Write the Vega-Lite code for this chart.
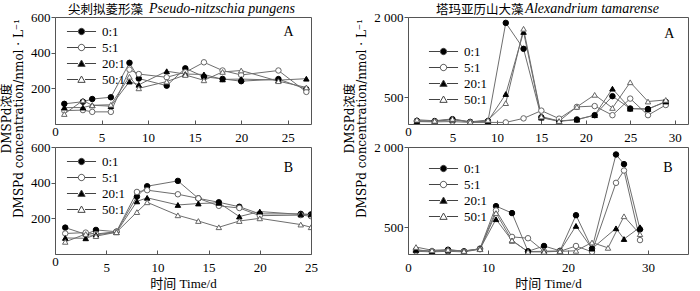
{
  "$schema": "https://vega.github.io/schema/vega-lite/v6.json",
  "padding": {"left": 0, "top": 1, "right": 0, "bottom": 0},
  "bounds": "flush",
  "columns": 2,
  "spacing": {"row": 23, "column": 97},
  "datasets": {
    "keys": [{"ratio": "0:1"}, {"ratio": "5:1"}, {"ratio": "20:1"}, {"ratio": "50:1"}]
  },
  "data": {"values": [
    {"panel":"TL","ratio":"0:1","day":1,"value":113},{"panel":"TL","ratio":"0:1","day":3,"value":125},{"panel":"TL","ratio":"0:1","day":4,"value":140},{"panel":"TL","ratio":"0:1","day":6,"value":150},{"panel":"TL","ratio":"0:1","day":8,"value":343},{"panel":"TL","ratio":"0:1","day":9,"value":255},{"panel":"TL","ratio":"0:1","day":12,"value":215},{"panel":"TL","ratio":"0:1","day":14,"value":312},{"panel":"TL","ratio":"0:1","day":16,"value":265},{"panel":"TL","ratio":"0:1","day":18,"value":253},{"panel":"TL","ratio":"0:1","day":20,"value":240},{"panel":"TL","ratio":"0:1","day":24,"value":252},{"panel":"TL","ratio":"0:1","day":27,"value":195},
    {"panel":"TL","ratio":"5:1","day":1,"value":75},{"panel":"TL","ratio":"5:1","day":3,"value":78},{"panel":"TL","ratio":"5:1","day":4,"value":68},{"panel":"TL","ratio":"5:1","day":6,"value":68},{"panel":"TL","ratio":"5:1","day":8,"value":305},{"panel":"TL","ratio":"5:1","day":9,"value":280},{"panel":"TL","ratio":"5:1","day":12,"value":262},{"panel":"TL","ratio":"5:1","day":14,"value":290},{"panel":"TL","ratio":"5:1","day":16,"value":346},{"panel":"TL","ratio":"5:1","day":18,"value":300},{"panel":"TL","ratio":"5:1","day":20,"value":275},{"panel":"TL","ratio":"5:1","day":24,"value":300},{"panel":"TL","ratio":"5:1","day":27,"value":180},
    {"panel":"TL","ratio":"20:1","day":1,"value":92},{"panel":"TL","ratio":"20:1","day":3,"value":92},{"panel":"TL","ratio":"20:1","day":4,"value":105},{"panel":"TL","ratio":"20:1","day":6,"value":100},{"panel":"TL","ratio":"20:1","day":8,"value":238},{"panel":"TL","ratio":"20:1","day":9,"value":220},{"panel":"TL","ratio":"20:1","day":12,"value":296},{"panel":"TL","ratio":"20:1","day":14,"value":280},{"panel":"TL","ratio":"20:1","day":16,"value":278},{"panel":"TL","ratio":"20:1","day":18,"value":250},{"panel":"TL","ratio":"20:1","day":20,"value":252},{"panel":"TL","ratio":"20:1","day":24,"value":246},{"panel":"TL","ratio":"20:1","day":27,"value":254},
    {"panel":"TL","ratio":"50:1","day":1,"value":56},{"panel":"TL","ratio":"50:1","day":3,"value":132},{"panel":"TL","ratio":"50:1","day":4,"value":105},{"panel":"TL","ratio":"50:1","day":6,"value":108},{"panel":"TL","ratio":"50:1","day":8,"value":265},{"panel":"TL","ratio":"50:1","day":9,"value":200},{"panel":"TL","ratio":"50:1","day":12,"value":238},{"panel":"TL","ratio":"50:1","day":14,"value":275},{"panel":"TL","ratio":"50:1","day":16,"value":245},{"panel":"TL","ratio":"50:1","day":18,"value":292},{"panel":"TL","ratio":"50:1","day":20,"value":300},{"panel":"TL","ratio":"50:1","day":24,"value":240},{"panel":"TL","ratio":"50:1","day":27,"value":205},

    {"panel":"BL","ratio":"0:1","day":1,"value":148},{"panel":"BL","ratio":"0:1","day":3,"value":110},{"panel":"BL","ratio":"0:1","day":4,"value":135},{"panel":"BL","ratio":"0:1","day":6,"value":125},{"panel":"BL","ratio":"0:1","day":8,"value":322},{"panel":"BL","ratio":"0:1","day":9,"value":380},{"panel":"BL","ratio":"0:1","day":12,"value":410},{"panel":"BL","ratio":"0:1","day":14,"value":312},{"panel":"BL","ratio":"0:1","day":16,"value":290},{"panel":"BL","ratio":"0:1","day":18,"value":265},{"panel":"BL","ratio":"0:1","day":20,"value":225},{"panel":"BL","ratio":"0:1","day":24,"value":225},{"panel":"BL","ratio":"0:1","day":25,"value":222},
    {"panel":"BL","ratio":"5:1","day":1,"value":115},{"panel":"BL","ratio":"5:1","day":3,"value":120},{"panel":"BL","ratio":"5:1","day":4,"value":112},{"panel":"BL","ratio":"5:1","day":6,"value":125},{"panel":"BL","ratio":"5:1","day":8,"value":348},{"panel":"BL","ratio":"5:1","day":9,"value":358},{"panel":"BL","ratio":"5:1","day":12,"value":335},{"panel":"BL","ratio":"5:1","day":14,"value":312},{"panel":"BL","ratio":"5:1","day":16,"value":270},{"panel":"BL","ratio":"5:1","day":18,"value":258},{"panel":"BL","ratio":"5:1","day":20,"value":215},{"panel":"BL","ratio":"5:1","day":24,"value":218},{"panel":"BL","ratio":"5:1","day":25,"value":212},
    {"panel":"BL","ratio":"20:1","day":1,"value":90},{"panel":"BL","ratio":"20:1","day":3,"value":88},{"panel":"BL","ratio":"20:1","day":4,"value":108},{"panel":"BL","ratio":"20:1","day":6,"value":122},{"panel":"BL","ratio":"20:1","day":8,"value":295},{"panel":"BL","ratio":"20:1","day":9,"value":315},{"panel":"BL","ratio":"20:1","day":12,"value":275},{"panel":"BL","ratio":"20:1","day":14,"value":283},{"panel":"BL","ratio":"20:1","day":16,"value":287},{"panel":"BL","ratio":"20:1","day":18,"value":210},{"panel":"BL","ratio":"20:1","day":20,"value":238},{"panel":"BL","ratio":"20:1","day":24,"value":222},{"panel":"BL","ratio":"20:1","day":25,"value":222},
    {"panel":"BL","ratio":"50:1","day":1,"value":68},{"panel":"BL","ratio":"50:1","day":3,"value":112},{"panel":"BL","ratio":"50:1","day":4,"value":100},{"panel":"BL","ratio":"50:1","day":6,"value":122},{"panel":"BL","ratio":"50:1","day":8,"value":235},{"panel":"BL","ratio":"50:1","day":9,"value":290},{"panel":"BL","ratio":"50:1","day":12,"value":217},{"panel":"BL","ratio":"50:1","day":14,"value":185},{"panel":"BL","ratio":"50:1","day":16,"value":150},{"panel":"BL","ratio":"50:1","day":18,"value":185},{"panel":"BL","ratio":"50:1","day":20,"value":200},{"panel":"BL","ratio":"50:1","day":24,"value":165},{"panel":"BL","ratio":"50:1","day":25,"value":150},

    {"panel":"TR","ratio":"0:1","day":1,"value":60},{"panel":"TR","ratio":"0:1","day":3,"value":55},{"panel":"TR","ratio":"0:1","day":5,"value":90},{"panel":"TR","ratio":"0:1","day":7,"value":40},{"panel":"TR","ratio":"0:1","day":9,"value":55},{"panel":"TR","ratio":"0:1","day":11,"value":1890},{"panel":"TR","ratio":"0:1","day":13,"value":1405},{"panel":"TR","ratio":"0:1","day":15,"value":125},{"panel":"TR","ratio":"0:1","day":17,"value":55},{"panel":"TR","ratio":"0:1","day":19,"value":85},{"panel":"TR","ratio":"0:1","day":21,"value":165},{"panel":"TR","ratio":"0:1","day":23,"value":520},{"panel":"TR","ratio":"0:1","day":25,"value":290},{"panel":"TR","ratio":"0:1","day":27,"value":280},{"panel":"TR","ratio":"0:1","day":29,"value":415},
    {"panel":"TR","ratio":"5:1","day":1,"value":45},{"panel":"TR","ratio":"5:1","day":3,"value":40},{"panel":"TR","ratio":"5:1","day":5,"value":45},{"panel":"TR","ratio":"5:1","day":7,"value":30},{"panel":"TR","ratio":"5:1","day":9,"value":30},{"panel":"TR","ratio":"5:1","day":11,"value":30},{"panel":"TR","ratio":"5:1","day":13,"value":105},{"panel":"TR","ratio":"5:1","day":15,"value":250},{"panel":"TR","ratio":"5:1","day":17,"value":100},{"panel":"TR","ratio":"5:1","day":19,"value":320},{"panel":"TR","ratio":"5:1","day":21,"value":335},{"panel":"TR","ratio":"5:1","day":23,"value":165},{"panel":"TR","ratio":"5:1","day":25,"value":475},{"panel":"TR","ratio":"5:1","day":27,"value":165},{"panel":"TR","ratio":"5:1","day":29,"value":355},
    {"panel":"TR","ratio":"20:1","day":1,"value":55},{"panel":"TR","ratio":"20:1","day":3,"value":50},{"panel":"TR","ratio":"20:1","day":5,"value":80},{"panel":"TR","ratio":"20:1","day":7,"value":35},{"panel":"TR","ratio":"20:1","day":9,"value":55},{"panel":"TR","ratio":"20:1","day":11,"value":560},{"panel":"TR","ratio":"20:1","day":13,"value":1720},{"panel":"TR","ratio":"20:1","day":15,"value":118},{"panel":"TR","ratio":"20:1","day":17,"value":50},{"panel":"TR","ratio":"20:1","day":19,"value":80},{"panel":"TR","ratio":"20:1","day":21,"value":165},{"panel":"TR","ratio":"20:1","day":23,"value":660},{"panel":"TR","ratio":"20:1","day":25,"value":285},{"panel":"TR","ratio":"20:1","day":27,"value":280},{"panel":"TR","ratio":"20:1","day":29,"value":420},
    {"panel":"TR","ratio":"50:1","day":1,"value":80},{"panel":"TR","ratio":"50:1","day":3,"value":60},{"panel":"TR","ratio":"50:1","day":5,"value":95},{"panel":"TR","ratio":"50:1","day":7,"value":40},{"panel":"TR","ratio":"50:1","day":9,"value":75},{"panel":"TR","ratio":"50:1","day":11,"value":390},{"panel":"TR","ratio":"50:1","day":13,"value":1780},{"panel":"TR","ratio":"50:1","day":15,"value":140},{"panel":"TR","ratio":"50:1","day":17,"value":55},{"panel":"TR","ratio":"50:1","day":19,"value":320},{"panel":"TR","ratio":"50:1","day":21,"value":545},{"panel":"TR","ratio":"50:1","day":23,"value":300},{"panel":"TR","ratio":"50:1","day":25,"value":780},{"panel":"TR","ratio":"50:1","day":27,"value":420},{"panel":"TR","ratio":"50:1","day":29,"value":450},

    {"panel":"BR","ratio":"0:1","day":1,"value":75},{"panel":"BR","ratio":"0:1","day":3,"value":50},{"panel":"BR","ratio":"0:1","day":5,"value":80},{"panel":"BR","ratio":"0:1","day":7,"value":50},{"panel":"BR","ratio":"0:1","day":9,"value":100},{"panel":"BR","ratio":"0:1","day":11,"value":895},{"panel":"BR","ratio":"0:1","day":13,"value":765},{"panel":"BR","ratio":"0:1","day":15,"value":50},{"panel":"BR","ratio":"0:1","day":17,"value":150},{"panel":"BR","ratio":"0:1","day":19,"value":60},{"panel":"BR","ratio":"0:1","day":21,"value":725},{"panel":"BR","ratio":"0:1","day":23,"value":100},{"panel":"BR","ratio":"0:1","day":26,"value":1860},{"panel":"BR","ratio":"0:1","day":27,"value":1680},{"panel":"BR","ratio":"0:1","day":29,"value":460},
    {"panel":"BR","ratio":"5:1","day":1,"value":50},{"panel":"BR","ratio":"5:1","day":3,"value":40},{"panel":"BR","ratio":"5:1","day":5,"value":50},{"panel":"BR","ratio":"5:1","day":7,"value":40},{"panel":"BR","ratio":"5:1","day":9,"value":90},{"panel":"BR","ratio":"5:1","day":11,"value":815},{"panel":"BR","ratio":"5:1","day":13,"value":320},{"panel":"BR","ratio":"5:1","day":15,"value":295},{"panel":"BR","ratio":"5:1","day":17,"value":50},{"panel":"BR","ratio":"5:1","day":19,"value":50},{"panel":"BR","ratio":"5:1","day":21,"value":150},{"panel":"BR","ratio":"5:1","day":23,"value":40},{"panel":"BR","ratio":"5:1","day":26,"value":1330},{"panel":"BR","ratio":"5:1","day":27,"value":1560},{"panel":"BR","ratio":"5:1","day":29,"value":260},
    {"panel":"BR","ratio":"20:1","day":1,"value":75},{"panel":"BR","ratio":"20:1","day":3,"value":55},{"panel":"BR","ratio":"20:1","day":5,"value":65},{"panel":"BR","ratio":"20:1","day":7,"value":60},{"panel":"BR","ratio":"20:1","day":9,"value":95},{"panel":"BR","ratio":"20:1","day":11,"value":650},{"panel":"BR","ratio":"20:1","day":13,"value":250},{"panel":"BR","ratio":"20:1","day":15,"value":45},{"panel":"BR","ratio":"20:1","day":17,"value":50},{"panel":"BR","ratio":"20:1","day":19,"value":55},{"panel":"BR","ratio":"20:1","day":21,"value":525},{"panel":"BR","ratio":"20:1","day":23,"value":100},{"panel":"BR","ratio":"20:1","day":26,"value":480},{"panel":"BR","ratio":"20:1","day":27,"value":280},{"panel":"BR","ratio":"20:1","day":29,"value":500},
    {"panel":"BR","ratio":"50:1","day":1,"value":130},{"panel":"BR","ratio":"50:1","day":3,"value":70},{"panel":"BR","ratio":"50:1","day":5,"value":80},{"panel":"BR","ratio":"50:1","day":7,"value":55},{"panel":"BR","ratio":"50:1","day":9,"value":90},{"panel":"BR","ratio":"50:1","day":11,"value":765},{"panel":"BR","ratio":"50:1","day":13,"value":255},{"panel":"BR","ratio":"50:1","day":15,"value":40},{"panel":"BR","ratio":"50:1","day":17,"value":40},{"panel":"BR","ratio":"50:1","day":19,"value":50},{"panel":"BR","ratio":"50:1","day":21,"value":60},{"panel":"BR","ratio":"50:1","day":23,"value":215},{"panel":"BR","ratio":"50:1","day":25,"value":115},{"panel":"BR","ratio":"50:1","day":27,"value":705},{"panel":"BR","ratio":"50:1","day":29,"value":370}
  ]},
  "concat": [
    {
      "width": 256, "height": 107,
      "resolve": {"scale": {"shape": "independent", "fill": "independent", "stroke": "independent"}},
      "layer": [
        {"transform": [{"filter": "datum.panel === 'TL'"}],
         "mark": {"type": "line", "color": "#6e6e6e", "strokeWidth": 1, "clip": true},
         "encoding": {
           "x": {"field": "day", "type": "quantitative", "scale": {"domain": [0, 27.5], "nice": false}, "axis": {"values": [0, 5, 10, 15, 20, 25], "title": null, "labelOverlap": false, "labelBaseline": {"condition": {"test": "datum.value === 0", "value": "middle"}, "value": "top"}}},
           "y": {"field": "value", "type": "quantitative", "scale": {"domain": [0, 600], "nice": false}, "axis": {"values": [200, 400, 600], "title": ["DMSPd浓度", "DMSPd concentration/nmol · L⁻¹"], "titleY": 101}},
           "detail": {"field": "ratio"}}},
        {"transform": [{"filter": "datum.panel === 'TL'"}],
         "mark": {"type": "point", "filled": true, "clip": true, "strokeWidth": 1, "size": 30, "opacity": 1},
         "encoding": {
           "x": {"field": "day", "type": "quantitative"},
           "y": {"field": "value", "type": "quantitative"},
           "shape": {"field": "ratio", "scale": {"domain": ["0:1", "5:1", "20:1", "50:1"], "range": ["circle", "circle", "triangle-up", "triangle-up"]}, "legend": null},
           "fill": {"field": "ratio", "scale": {"domain": ["0:1", "5:1", "20:1", "50:1"], "range": ["#000000", "#ffffff", "#000000", "#ffffff"]}, "legend": null},
           "stroke": {"field": "ratio", "scale": {"domain": ["0:1", "5:1", "20:1", "50:1"], "range": ["#000000", "#666666", "#000000", "#666666"]}, "legend": null}}},
        {"data": {"name": "keys"},
         "mark": {"type": "point", "filled": false, "opacity": 0, "strokeWidth": 1},
         "encoding": {
           "shape": {"field": "ratio", "scale": {"domain": ["0:1", "5:1", "20:1", "50:1"], "range": ["M-4.6,0H-1.1M1.1,0H4.6M1,0A1,1,0,1,1,-1,0A1,1,0,1,1,1,0Z", "M-4.6,0H-1.1M1.1,0H4.6M1,0A1,1,0,1,1,-1,0A1,1,0,1,1,1,0Z", "M-4.6,0H-1.1M1.1,0H4.6M0,-1.1L1.15,0.9L-1.15,0.9Z", "M-4.6,0H-1.1M1.1,0H4.6M0,-1.1L1.15,0.9L-1.15,0.9Z"]}, "legend": {"orient": "none", "legendX": 20, "legendY": 8}},
           "fill": {"field": "ratio", "scale": {"domain": ["0:1", "5:1", "20:1", "50:1"], "range": ["#000000", "#ffffff", "#000000", "#ffffff"]}, "legend": {"orient": "none", "legendX": 20, "legendY": 8}},
           "stroke": {"field": "ratio", "scale": {"domain": ["0:1", "5:1", "20:1", "50:1"], "range": ["#444444", "#444444", "#444444", "#444444"]}, "legend": {"orient": "none", "legendX": 20, "legendY": 8}}}},
        {"data": {"values": [{"tag": "A"}]},
         "mark": {"type": "text", "fontSize": 14},
         "encoding": {
           "x": {"datum": 25.1, "type": "quantitative"},
           "y": {"datum": 515, "type": "quantitative"},
           "text": {"field": "tag"}}},
        {"data": {"values": [{"species": "尖刺拟菱形藻"}]},
         "mark": {"type": "text", "fontSize": 12.5, "font": "Noto Sans CJK SC", "align": "left", "baseline": "alphabetic", "clip": false},
         "encoding": {
           "x": {"datum": 1.4, "type": "quantitative"},
           "y": {"datum": 616, "type": "quantitative"},
           "text": {"field": "species"}}},
        {"data": {"values": [{"species": "Pseudo-nitzschia pungens"}]},
         "mark": {"type": "text", "fontSize": 14, "fontStyle": "italic", "align": "left", "baseline": "alphabetic", "clip": false},
         "encoding": {
           "x": {"datum": 10.1, "type": "quantitative"},
           "y": {"datum": 620, "type": "quantitative"},
           "text": {"field": "species"}}}
      ]
    },
    {
      "width": 280, "height": 107,
      "resolve": {"scale": {"shape": "independent", "fill": "independent", "stroke": "independent"}},
      "layer": [
        {"transform": [{"filter": "datum.panel === 'TR'"}],
         "mark": {"type": "line", "color": "#6e6e6e", "strokeWidth": 1, "clip": true},
         "encoding": {
           "x": {"field": "day", "type": "quantitative", "scale": {"domain": [0, 31.5], "nice": false}, "axis": {"values": [0, 5, 10, 15, 20, 25, 30], "title": null, "labelOverlap": false, "labelBaseline": {"condition": {"test": "datum.value === 0", "value": "middle"}, "value": "top"}}},
           "y": {"field": "value", "type": "quantitative", "scale": {"domain": [0, 2000], "nice": false}, "axis": {"values": [500, 1000, 1500, 2000], "labelExpr": "replace(format(datum.value, ','), ',', ' ')", "title": ["DMSPd浓度", "DMSPd concentration/nmol · L⁻¹"], "titleY": 101}},
           "detail": {"field": "ratio"}}},
        {"transform": [{"filter": "datum.panel === 'TR'"}],
         "mark": {"type": "point", "filled": true, "clip": true, "strokeWidth": 1, "size": 30, "opacity": 1},
         "encoding": {
           "x": {"field": "day", "type": "quantitative"},
           "y": {"field": "value", "type": "quantitative"},
           "shape": {"field": "ratio", "scale": {"domain": ["0:1", "5:1", "20:1", "50:1"], "range": ["circle", "circle", "triangle-up", "triangle-up"]}, "legend": null},
           "fill": {"field": "ratio", "scale": {"domain": ["0:1", "5:1", "20:1", "50:1"], "range": ["#000000", "#ffffff", "#000000", "#ffffff"]}, "legend": null},
           "stroke": {"field": "ratio", "scale": {"domain": ["0:1", "5:1", "20:1", "50:1"], "range": ["#000000", "#666666", "#000000", "#666666"]}, "legend": null}}},
        {"data": {"name": "keys"},
         "mark": {"type": "point", "filled": false, "opacity": 0, "strokeWidth": 1},
         "encoding": {
           "shape": {"field": "ratio", "scale": {"domain": ["0:1", "5:1", "20:1", "50:1"], "range": ["M-4.6,0H-1.1M1.1,0H4.6M1,0A1,1,0,1,1,-1,0A1,1,0,1,1,1,0Z", "M-4.6,0H-1.1M1.1,0H4.6M1,0A1,1,0,1,1,-1,0A1,1,0,1,1,1,0Z", "M-4.6,0H-1.1M1.1,0H4.6M0,-1.1L1.15,0.9L-1.15,0.9Z", "M-4.6,0H-1.1M1.1,0H4.6M0,-1.1L1.15,0.9L-1.15,0.9Z"]}, "legend": {"orient": "none", "legendX": 29, "legendY": 28}},
           "fill": {"field": "ratio", "scale": {"domain": ["0:1", "5:1", "20:1", "50:1"], "range": ["#000000", "#ffffff", "#000000", "#ffffff"]}, "legend": {"orient": "none", "legendX": 29, "legendY": 28}},
           "stroke": {"field": "ratio", "scale": {"domain": ["0:1", "5:1", "20:1", "50:1"], "range": ["#444444", "#444444", "#444444", "#444444"]}, "legend": {"orient": "none", "legendX": 29, "legendY": 28}}}},
        {"data": {"values": [{"tag": "A"}]},
         "mark": {"type": "text", "fontSize": 14},
         "encoding": {
           "x": {"datum": 29.4, "type": "quantitative"},
           "y": {"datum": 1690, "type": "quantitative"},
           "text": {"field": "tag"}}},
        {"data": {"values": [{"species": "塔玛亚历山大藻"}]},
         "mark": {"type": "text", "fontSize": 12.5, "font": "Noto Sans CJK SC", "align": "left", "baseline": "alphabetic", "clip": false},
         "encoding": {
           "x": {"datum": 3.15, "type": "quantitative"},
           "y": {"datum": 2055, "type": "quantitative"},
           "text": {"field": "species"}}},
        {"data": {"values": [{"species": "Alexandrium tamarense"}]},
         "mark": {"type": "text", "fontSize": 14, "fontStyle": "italic", "align": "left", "baseline": "alphabetic", "clip": false},
         "encoding": {
           "x": {"datum": 13.2, "type": "quantitative"},
           "y": {"datum": 2068, "type": "quantitative"},
           "text": {"field": "species"}}}
      ]
    },
    {
      "width": 256, "height": 107,
      "resolve": {"scale": {"shape": "independent", "fill": "independent", "stroke": "independent"}},
      "layer": [
        {"transform": [{"filter": "datum.panel === 'BL'"}],
         "mark": {"type": "line", "color": "#6e6e6e", "strokeWidth": 1, "clip": true},
         "encoding": {
           "x": {"field": "day", "type": "quantitative", "scale": {"domain": [0, 25], "nice": false}, "axis": {"values": [0, 5, 10, 15, 20, 25], "title": "时间 Time/d", "titlePadding": 3, "labelOverlap": false, "labelBaseline": {"condition": {"test": "datum.value === 0", "value": "middle"}, "value": "top"}}},
           "y": {"field": "value", "type": "quantitative", "scale": {"domain": [0, 600], "nice": false}, "axis": {"values": [200, 400, 600], "title": null}},
           "detail": {"field": "ratio"}}},
        {"transform": [{"filter": "datum.panel === 'BL'"}],
         "mark": {"type": "point", "filled": true, "clip": true, "strokeWidth": 1, "size": 30, "opacity": 1},
         "encoding": {
           "x": {"field": "day", "type": "quantitative"},
           "y": {"field": "value", "type": "quantitative"},
           "shape": {"field": "ratio", "scale": {"domain": ["0:1", "5:1", "20:1", "50:1"], "range": ["circle", "circle", "triangle-up", "triangle-up"]}, "legend": null},
           "fill": {"field": "ratio", "scale": {"domain": ["0:1", "5:1", "20:1", "50:1"], "range": ["#000000", "#ffffff", "#000000", "#ffffff"]}, "legend": null},
           "stroke": {"field": "ratio", "scale": {"domain": ["0:1", "5:1", "20:1", "50:1"], "range": ["#000000", "#666666", "#000000", "#666666"]}, "legend": null}}},
        {"data": {"name": "keys"},
         "mark": {"type": "point", "filled": false, "opacity": 0, "strokeWidth": 1},
         "encoding": {
           "shape": {"field": "ratio", "scale": {"domain": ["0:1", "5:1", "20:1", "50:1"], "range": ["M-4.6,0H-1.1M1.1,0H4.6M1,0A1,1,0,1,1,-1,0A1,1,0,1,1,1,0Z", "M-4.6,0H-1.1M1.1,0H4.6M1,0A1,1,0,1,1,-1,0A1,1,0,1,1,1,0Z", "M-4.6,0H-1.1M1.1,0H4.6M0,-1.1L1.15,0.9L-1.15,0.9Z", "M-4.6,0H-1.1M1.1,0H4.6M0,-1.1L1.15,0.9L-1.15,0.9Z"]}, "legend": {"orient": "none", "legendX": 20, "legendY": 8}},
           "fill": {"field": "ratio", "scale": {"domain": ["0:1", "5:1", "20:1", "50:1"], "range": ["#000000", "#ffffff", "#000000", "#ffffff"]}, "legend": {"orient": "none", "legendX": 20, "legendY": 8}},
           "stroke": {"field": "ratio", "scale": {"domain": ["0:1", "5:1", "20:1", "50:1"], "range": ["#444444", "#444444", "#444444", "#444444"]}, "legend": {"orient": "none", "legendX": 20, "legendY": 8}}}},
        {"data": {"values": [{"tag": "B"}]},
         "mark": {"type": "text", "fontSize": 14},
         "encoding": {
           "x": {"datum": 22.8, "type": "quantitative"},
           "y": {"datum": 480, "type": "quantitative"},
           "text": {"field": "tag"}}}
      ]
    },
    {
      "width": 280, "height": 107,
      "resolve": {"scale": {"shape": "independent", "fill": "independent", "stroke": "independent"}},
      "layer": [
        {"transform": [{"filter": "datum.panel === 'BR'"}],
         "mark": {"type": "line", "color": "#6e6e6e", "strokeWidth": 1, "clip": true},
         "encoding": {
           "x": {"field": "day", "type": "quantitative", "scale": {"domain": [0, 35], "nice": false}, "axis": {"values": [0, 5, 10, 15, 20, 25, 30, 35], "title": "时间 Time/d", "titlePadding": 3, "labelOverlap": false, "labelBound": false, "labelSeparation": 0, "labelBaseline": "top"}},
           "y": {"field": "value", "type": "quantitative", "scale": {"domain": [0, 2000], "nice": false}, "axis": {"values": [500, 1000, 1500, 2000], "labelExpr": "replace(format(datum.value, ','), ',', ' ')", "title": null}},
           "detail": {"field": "ratio"}}},
        {"transform": [{"filter": "datum.panel === 'BR'"}],
         "mark": {"type": "point", "filled": true, "clip": true, "strokeWidth": 1, "size": 30, "opacity": 1},
         "encoding": {
           "x": {"field": "day", "type": "quantitative"},
           "y": {"field": "value", "type": "quantitative"},
           "shape": {"field": "ratio", "scale": {"domain": ["0:1", "5:1", "20:1", "50:1"], "range": ["circle", "circle", "triangle-up", "triangle-up"]}, "legend": null},
           "fill": {"field": "ratio", "scale": {"domain": ["0:1", "5:1", "20:1", "50:1"], "range": ["#000000", "#ffffff", "#000000", "#ffffff"]}, "legend": null},
           "stroke": {"field": "ratio", "scale": {"domain": ["0:1", "5:1", "20:1", "50:1"], "range": ["#000000", "#666666", "#000000", "#666666"]}, "legend": null}}},
        {"data": {"name": "keys"},
         "mark": {"type": "point", "filled": false, "opacity": 0, "strokeWidth": 1},
         "encoding": {
           "shape": {"field": "ratio", "scale": {"domain": ["0:1", "5:1", "20:1", "50:1"], "range": ["M-4.6,0H-1.1M1.1,0H4.6M1,0A1,1,0,1,1,-1,0A1,1,0,1,1,1,0Z", "M-4.6,0H-1.1M1.1,0H4.6M1,0A1,1,0,1,1,-1,0A1,1,0,1,1,1,0Z", "M-4.6,0H-1.1M1.1,0H4.6M0,-1.1L1.15,0.9L-1.15,0.9Z", "M-4.6,0H-1.1M1.1,0H4.6M0,-1.1L1.15,0.9L-1.15,0.9Z"]}, "legend": {"orient": "none", "legendX": 29, "legendY": 15}},
           "fill": {"field": "ratio", "scale": {"domain": ["0:1", "5:1", "20:1", "50:1"], "range": ["#000000", "#ffffff", "#000000", "#ffffff"]}, "legend": {"orient": "none", "legendX": 29, "legendY": 15}},
           "stroke": {"field": "ratio", "scale": {"domain": ["0:1", "5:1", "20:1", "50:1"], "range": ["#444444", "#444444", "#444444", "#444444"]}, "legend": {"orient": "none", "legendX": 29, "legendY": 15}}}},
        {"data": {"values": [{"tag": "B"}]},
         "mark": {"type": "text", "fontSize": 14},
         "encoding": {
           "x": {"datum": 32.5, "type": "quantitative"},
           "y": {"datum": 1610, "type": "quantitative"},
           "text": {"field": "tag"}}}
      ]
    }
  ],
  "resolve": {"scale": {"shape": "independent", "fill": "independent", "stroke": "independent"}, "legend": {"shape": "independent", "fill": "independent", "stroke": "independent"}},
  "config": {
    "font": "Liberation Serif, Noto Sans CJK SC",
    "view": {"stroke": "#555555", "strokeWidth": 1},
    "text": {"font": "Liberation Serif", "color": "#000000"},
    "axis": {"grid": false, "domain": false, "labelFontSize": 13, "labelColor": "#000000", "labelFont": "Liberation Serif", "titleFontSize": 13, "titleFontWeight": "normal", "titleColor": "#000000", "titleFont": "Liberation Serif, Noto Sans CJK SC", "tickColor": "#555555"},
    "axisX": {"tickSize": -4, "labelFlush": false, "labelPadding": 11},
    "axisY": {"tickSize": 4, "labelPadding": 1, "titleFont": "DejaVu Serif, Noto Sans CJK SC", "titleFontSize": 12, "titleLineHeight": 12, "titlePadding": 5},
    "legend": {
      "title": null, "symbolSize": 40, "labelOffset": 14, "rowPadding": 2, "labelFontSize": 13, "labelFont": "Liberation Serif", "labelColor": "#000000",
      "symbolStrokeWidth": 1, "symbolOpacity": 1
    }
  }
}
